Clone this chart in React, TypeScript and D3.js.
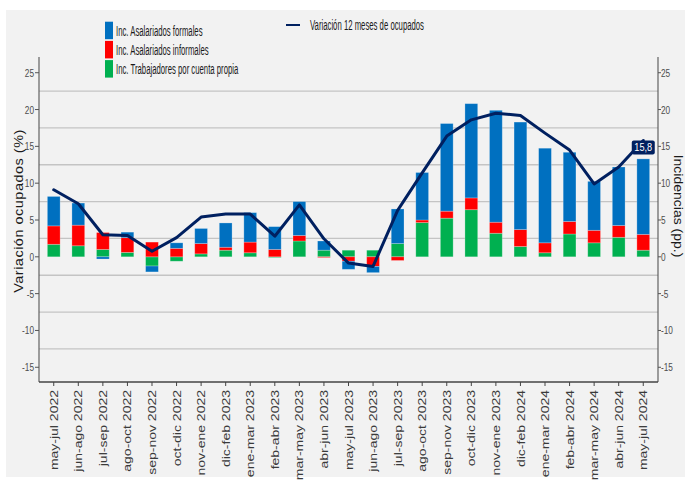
import React from 'react';
import * as d3 from 'd3';

const categories = [
  'may-jul 2022', 'jun-ago 2022', 'jul-sep 2022', 'ago-oct 2022', 'sep-nov 2022',
  'oct-dic 2022', 'nov-ene 2022', 'dic-feb 2023', 'ene-mar 2023', 'feb-abr 2023',
  'mar-may 2023', 'abr-jun 2023', 'may-jul 2023', 'jun-ago 2023', 'jul-sep 2023',
  'ago-oct 2023', 'sep-nov 2023', 'oct-dic 2023', 'nov-ene 2023', 'dic-feb 2024',
  'ene-mar 2024', 'feb-abr 2024', 'mar-may 2024', 'abr-jun 2024', 'may-jul 2024',
];

const formales = [4.0, 3.0, -0.3, 0.75, -0.8, 0.75, 2.05, 3.3, 4.0, 3.1, 4.6, 1.25, -1.1, -0.85, 4.7, 6.45, 11.9, 12.8, 15.2, 14.6, 12.85, 9.4, 6.65, 7.95, 10.25];
const informales = [2.5, 2.8, 2.3, 2.0, 2.0, 1.15, 1.4, 0.4, 1.45, 1.0, 0.75, -0.1, -0.6, -1.3, -0.5, 0.35, 0.95, 1.6, 1.5, 2.3, 1.35, 1.7, 1.7, 1.6, 2.15];
const cuentaPropia = [1.7, 1.5, 1.0, 0.6, -1.25, -0.6, 0.4, 0.9, 0.55, -0.1, 2.15, 0.9, 0.9, 0.9, 1.8, 4.65, 5.25, 6.4, 3.2, 1.4, 0.55, 3.1, 1.9, 2.65, 0.9];
const variacion = [9.1, 7.2, 3.0, 2.9, 0.75, 2.6, 5.4, 5.8, 5.8, 2.8, 7.05, 2.45, -0.85, -1.3, 6.3, 11.4, 16.4, 18.6, 19.5, 19.2, 16.8, 14.5, 9.9, 12.2, 15.8];

const yTicks = [25, 20, 15, 10, 5, 0, -5, -10, -15];
const gridValues = [22.5, 17.5, 12.5, 7.5, 2.5, -2.5, -7.5, -12.5];

const seriesKeys = ['cuentaPropia', 'informales', 'formales'];
const seriesColors: Record<string, string> = {
  formales: '#0070C0',
  informales: '#FF0000',
  cuentaPropia: '#00B050',
};
const legendItems = [
  { key: 'formales', label: 'Inc. Asalariados formales' },
  { key: 'informales', label: 'Inc. Asalariados informales' },
  { key: 'cuentaPropia', label: 'Inc. Trabajadores por cuenta propia' },
];
const lineLabel = 'Variación 12 meses de ocupados';

const W = 685;
const H = 482;
const LEFT = 39;
const RIGHT = 658;
const TOP = 58;
const BOTTOM = 382;
const FONT = '"Liberation Sans", Arial, sans-serif';
const NAVY = '#002060';

export default function App() {
  const x = d3.scalePoint<string>().domain(categories).range([LEFT, RIGHT]).padding(0.6);
  const y = d3.scaleLinear().domain([-17, 27]).range([BOTTOM, TOP]);
  const step = x.step();
  const bw = step * 0.52;

  const rows = categories.map((c, i) => ({
    cat: c,
    formales: formales[i],
    informales: informales[i],
    cuentaPropia: cuentaPropia[i],
  }));
  const layers = d3.stack<any>().keys(seriesKeys).offset(d3.stackOffsetDiverging)(rows);

  const lineGen = d3
    .line<number>()
    .x((_, i) => x(categories[i]) as number)
    .y((d) => y(d));

  const lastX = x(categories[categories.length - 1]) as number;
  const lastY = y(variacion[variacion.length - 1]);

  return (
    <svg
      width={W}
      height={H}
      style={{ position: 'absolute', left: 0, top: 0 }}
      xmlns="http://www.w3.org/2000/svg"
    >
      <rect x={0} y={0} width={W} height={H} fill="#ffffff" />
      <rect x={6} y={10} width={W - 6} height={467} fill="#f2f2f2" />

      {/* gridlines */}
      {gridValues.map((g) => (
        <line key={g} x1={LEFT} x2={RIGHT} y1={y(g)} y2={y(g)} stroke="#c4c4c4" strokeWidth={1.3} />
      ))}

      {/* bars */}
      {layers.map((layer) => (
        <g key={layer.key} fill={seriesColors[layer.key]}>
          {layer.map((d, i) => {
            const y0 = y(d[0]);
            const y1 = y(d[1]);
            const top = Math.min(y0, y1);
            const h = Math.abs(y0 - y1);
            if (h < 0.01) return null;
            return (
              <rect
                key={i}
                x={(x(categories[i]) as number) - bw / 2}
                y={top}
                width={bw}
                height={h}
                stroke="#ffffff"
                strokeOpacity={0.3}
                strokeWidth={0.8}
              />
            );
          })}
        </g>
      ))}

      {/* line */}
      <path
        d={lineGen(variacion) || ''}
        fill="none"
        stroke={NAVY}
        strokeWidth={3}
        strokeLinejoin="round"
        strokeLinecap="round"
      />

      {/* last value label */}
      <g>
        <rect x={lastX - 11.5} y={lastY} width={23} height={14} rx={2} fill={NAVY} />
        <text
          transform={`translate(${lastX},${lastY + 7}) scale(0.8,1)`}
          textAnchor="middle"
          dominantBaseline="central"
          fontFamily={FONT}
          fontSize={11.5}
          fill="#ffffff"
        >
          15,8
        </text>
      </g>

      {/* axes */}
      <line x1={LEFT} x2={LEFT} y1={TOP - 1} y2={BOTTOM} stroke="#555" strokeWidth={1.1} />
      <line x1={RIGHT} x2={RIGHT} y1={TOP - 1} y2={BOTTOM} stroke="#555" strokeWidth={1.1} />
      <line x1={LEFT} x2={RIGHT} y1={BOTTOM} y2={BOTTOM} stroke="#444" strokeWidth={1.6} />

      {yTicks.map((t) => (
        <g key={t}>
          <line x1={LEFT - 4} x2={LEFT} y1={y(t)} y2={y(t)} stroke="#555" strokeWidth={1} />
          <text
            transform={`translate(${LEFT - 5},${y(t)}) scale(0.72,1)`}
            textAnchor="end"
            dominantBaseline="central"
            fontFamily={FONT}
            fontSize={11.5}
            fill="#4d4d4d"
          >
            {t}
          </text>
          <line x1={RIGHT} x2={RIGHT + 3} y1={y(t)} y2={y(t)} stroke="#555" strokeWidth={1} />
          <text
            transform={`translate(${RIGHT + 3},${y(t)}) scale(0.72,1)`}
            textAnchor="start"
            dominantBaseline="central"
            fontFamily={FONT}
            fontSize={11.5}
            fill="#4d4d4d"
          >
            {t}
          </text>
        </g>
      ))}

      {categories.map((c) => {
        const cx = x(c) as number;
        return (
          <g key={c}>
            <line x1={cx} x2={cx} y1={BOTTOM} y2={BOTTOM + 4} stroke="#444" strokeWidth={1} />
            <text
              transform={`translate(${cx},${BOTTOM + 8}) scale(0.83,1) rotate(-90)`}
              textAnchor="end"
              dominantBaseline="central"
              fontFamily={FONT}
              fontSize={14}
              fill="#3a3a3a"
            >
              {c}
            </text>
          </g>
        );
      })}

      {/* axis titles */}
      <text
        transform={`translate(19,211) scale(0.85,1) rotate(-90)`}
        textAnchor="middle"
        dominantBaseline="central"
        fontFamily={FONT}
        fontSize={14.5}
        letterSpacing={0.5}
        fill="#1a1a1a"
      >
        Variación ocupados (%)
      </text>
      <text
        transform={`translate(678,206) scale(0.85,1) rotate(90)`}
        textAnchor="middle"
        dominantBaseline="central"
        fontFamily={FONT}
        fontSize={14}
        fill="#1a1a1a"
      >
        Incidencias (pp.)
      </text>

      {/* legend */}
      {legendItems.map((item, i) => {
        const ky = 21.7 + i * 19.2;
        return (
          <g key={item.key}>
            <rect x={105} y={ky} width={8} height={17.5} fill={seriesColors[item.key]} />
            <text
              transform={`translate(116,${ky + 9}) scale(0.5,1)`}
              dominantBaseline="central"
              fontFamily={FONT}
              fontSize={15.5}
              fill="#1a1a1a"
            >
              {item.label}
            </text>
          </g>
        );
      })}
      <line x1={286} x2={300} y1={25} y2={25} stroke={NAVY} strokeWidth={2} />
      <text
        transform={`translate(310,25) scale(0.5,1)`}
        dominantBaseline="central"
        fontFamily={FONT}
        fontSize={15.5}
        fill="#1a1a1a"
      >
        {lineLabel}
      </text>
    </svg>
  );
}
